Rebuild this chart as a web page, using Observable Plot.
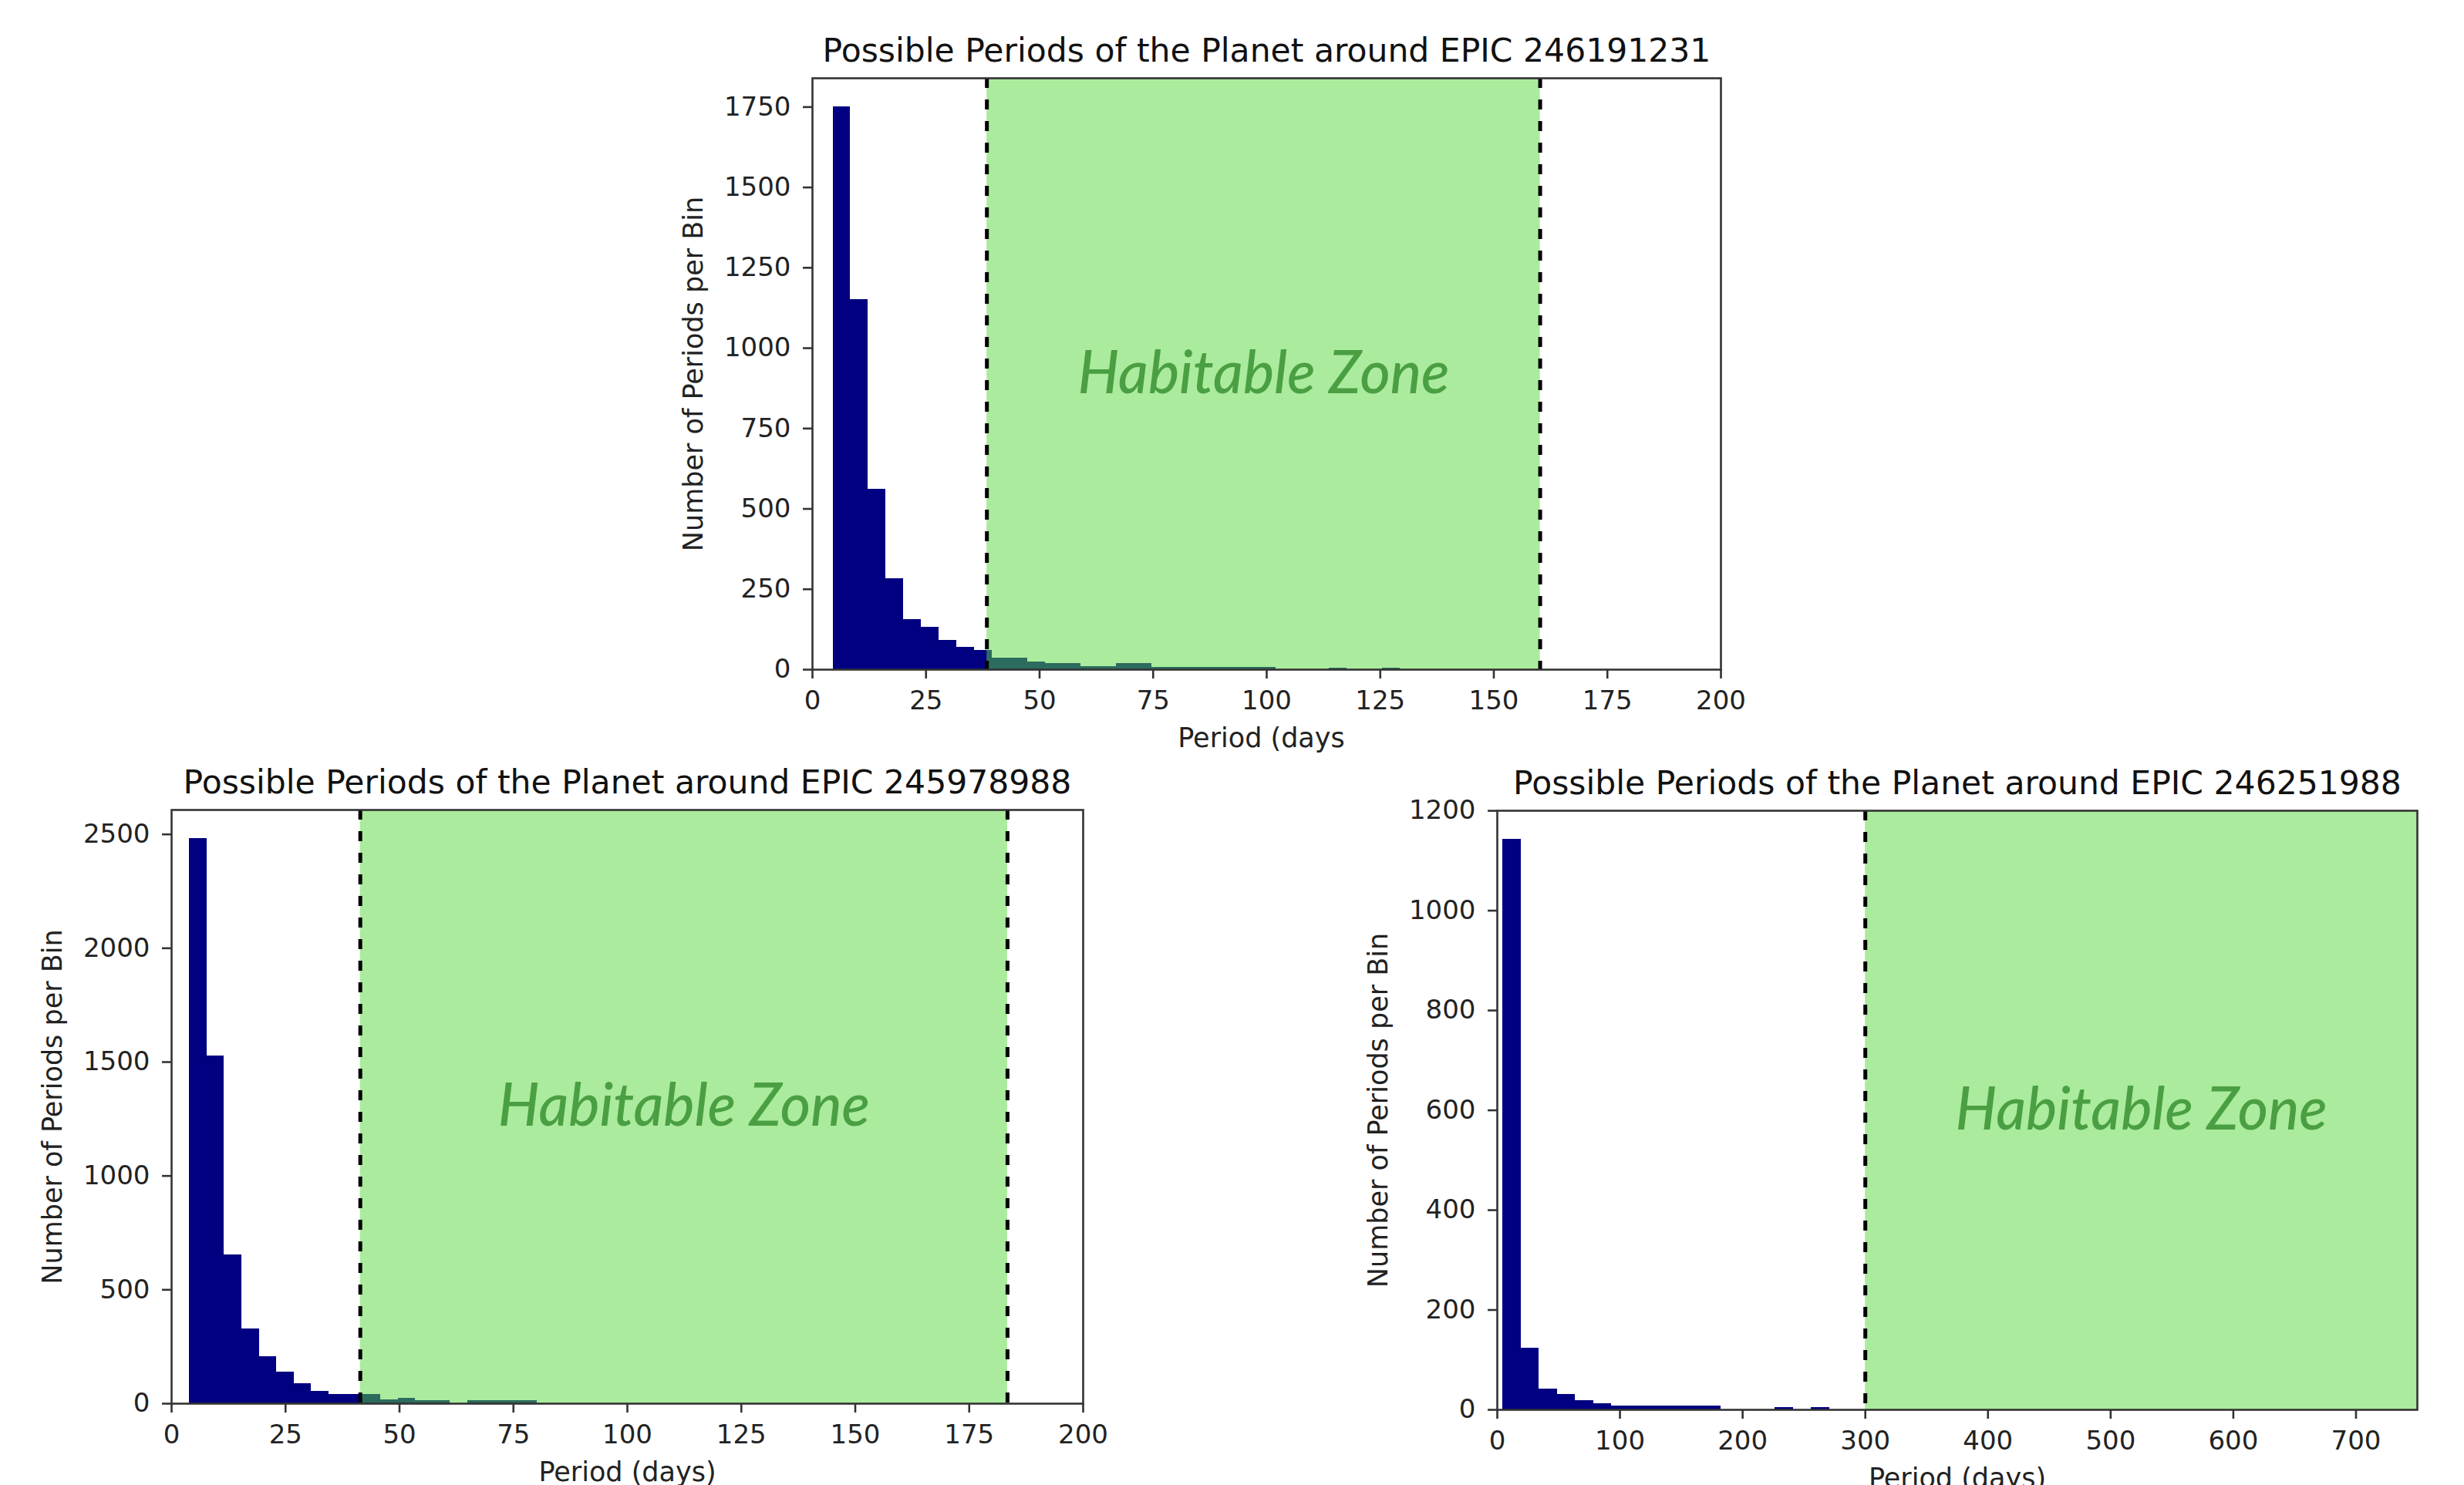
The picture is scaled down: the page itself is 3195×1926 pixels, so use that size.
<!DOCTYPE html>
<html>
<head>
<meta charset="utf-8">
<script src="https://cdn.jsdelivr.net/npm/d3@7"></script>
<script src="https://cdn.jsdelivr.net/npm/@observablehq/plot@0.6"></script>
<style>
  html, body { margin: 0; padding: 0; background: #fff; }
  body { width: 3195px; height: 1926px; overflow: hidden; position: relative; }
  .panel { position: absolute; }
  .panel svg { overflow: visible; }
</style>
</head>
<body>
<div id="p1" class="panel"></div>
<div id="p2" class="panel"></div>
<div id="p3" class="panel"></div>
<script>
// ---------- data ----------
const titles = [
  "Possible Periods of the Planet around EPIC 246191231",
  "Possible Periods of the Planet around EPIC 245978988",
  "Possible Periods of the Planet around EPIC 246251988"
];
const xLabels = ["Period (days", "Period (days)", "Period (days)"];
const yLabel = "Number of Periods per Bin";
const hzLabel = "Habitable Zone";

// histogram 1 (EPIC 246191231)
const binStart1 = 4.5, binWidth1 = 3.9;
const counts1 = [1752, 1152, 561, 282, 156, 131, 90, 70, 59, 36, 36, 25, 18, 18, 10, 10,
                 18, 18, 7, 7, 7, 7, 7, 7, 7, 0, 0, 0, 5, 0, 0, 5];
const hz1 = [38.4, 160.2];
const hzLines1 = [38.4, 160.2];
const xTicks1 = [0, 25, 50, 75, 100, 125, 150, 175, 200];
const yTicks1 = [0, 250, 500, 750, 1000, 1250, 1500, 1750];
const xMax1 = 200;

// histogram 2 (EPIC 245978988)
const binStart2 = 3.97, binWidth2 = 3.81;
const counts2 = [2483, 1526, 652, 328, 206, 138, 87, 53, 40, 40, 40, 16, 24, 12, 12, 0,
                 12, 12, 12, 12];
const hz2 = [41.4, 183.4];
const hzLines2 = [41.4, 183.4];
const xTicks2 = [0, 25, 50, 75, 100, 125, 150, 175, 200];
const yTicks2 = [0, 500, 1000, 1500, 2000, 2500];
const xMax2 = 200;

// histogram 3 (EPIC 246251988)
const binStart3 = 4.5, binWidth3 = 14.8;
const counts3 = [1143, 123, 42, 31, 19, 13, 7, 7, 7, 7, 7, 7, 0, 0, 0, 4, 0, 4];
const hz3 = [300, 750];
const hzLines3 = [300];
const xTicks3 = [0, 100, 200, 300, 400, 500, 600, 700];
const yTicks3 = [0, 200, 400, 600, 800, 1000, 1200];
const xMax3 = 750;

// ---------- styles ----------
const navy = "#000080";
const spanFill = "#57d73b";
const hzText = "#4a9f42";
const M = {left: 200, right: 40, top: 110, bottom: 130};

function bins(start, width, counts) {
  return counts.map((c, i) => ({x1: start + i * width, x2: start + (i + 1) * width, y: c}));
}

function chart(el, cfg) {
  const ymax = d3.max(cfg.counts) * 1.05;
  const W = cfg.fw + M.left + M.right;
  const H = cfg.fh + M.top + M.bottom;
  const plot = Plot.plot({
    width: W, height: H,
    marginLeft: M.left, marginRight: M.right, marginTop: M.top, marginBottom: M.bottom,
    style: {fontFamily: "DejaVu Sans", background: "transparent", color: "#222", overflow: "visible"},
    x: {domain: [0, cfg.xmax]},
    y: {domain: [0, ymax]},
    marks: [
      Plot.rect(bins(cfg.start, cfg.width, cfg.counts),
        {x1: "x1", x2: "x2", y1: 0, y2: "y", fill: navy, shapeRendering: "crispEdges"}),
      Plot.rect([cfg.hz], {x1: d => d[0], x2: d => d[1], fill: spanFill, fillOpacity: 0.5}),
      Plot.ruleX(cfg.hzLines, {stroke: "#000", strokeWidth: 5, strokeDasharray: "13,15"}),
      Plot.frame({stroke: "#333", strokeWidth: 2.6}),
      Plot.axisX(cfg.xTicks, {tickSize: 12, tickPadding: 15, fontSize: 34, strokeWidth: 2.6,
        stroke: "#333", fill: "#222", tickFormat: d => String(d), label: null}),
      Plot.axisY(cfg.yTicks, {tickSize: 12, tickPadding: 16, fontSize: 34, strokeWidth: 2.6,
        stroke: "#333", fill: "#222", tickFormat: d => String(d), label: null}),
      Plot.text([cfg.title], {text: d => d, frameAnchor: "top", lineAnchor: "bottom", dy: -22,
        fontSize: 42.5, fill: "#111"}),
      Plot.text([yLabel], {text: d => d, frameAnchor: "left", rotate: -90, lineAnchor: "bottom",
        textAnchor: "middle", dx: -143, fontSize: 35, fill: "#222"}),
      Plot.text([cfg.xLabel], {text: d => d, frameAnchor: "bottom", lineAnchor: "top", dy: 76,
        dx: cfg.xLabelDx || 0, fontSize: 35, fill: "#222"}),
      Plot.text([cfg.hz], {x: d => (d[0] + d[1]) / 2, text: () => hzLabel, frameAnchor: "middle",
        lineAnchor: "middle", fontSize: 78, fontStyle: "italic", fontWeight: 500,
        fontFamily: "Lato", fill: hzText})
    ]
  });
  plot.querySelectorAll("text").forEach(t => {
    if (t.textContent === hzLabel) {
      t.setAttribute("textLength", 482);
      t.setAttribute("lengthAdjust", "spacingAndGlyphs");
    }
  });
  el.style.left = (cfg.fl - M.left) + "px";
  el.style.top = (cfg.ft - M.top) + "px";
  el.appendChild(plot);
}

chart(document.getElementById("p1"), {
  title: titles[0], xLabel: xLabels[0], xLabelDx: -7,
  start: binStart1, width: binWidth1, counts: counts1, hz: hz1, hzLines: hzLines1,
  xTicks: xTicks1, yTicks: yTicks1, xmax: xMax1,
  fl: 1053, ft: 101, fw: 1178, fh: 767
});
chart(document.getElementById("p2"), {
  title: titles[1], xLabel: xLabels[1],
  start: binStart2, width: binWidth2, counts: counts2, hz: hz2, hzLines: hzLines2,
  xTicks: xTicks2, yTicks: yTicks2, xmax: xMax2,
  fl: 222, ft: 1050, fw: 1182, fh: 770
});
chart(document.getElementById("p3"), {
  title: titles[2], xLabel: xLabels[2],
  start: binStart3, width: binWidth3, counts: counts3, hz: hz3, hzLines: hzLines3,
  xTicks: xTicks3, yTicks: yTicks3, xmax: xMax3,
  fl: 1941, ft: 1051, fw: 1193, fh: 777
});
</script>
</body>
</html>
